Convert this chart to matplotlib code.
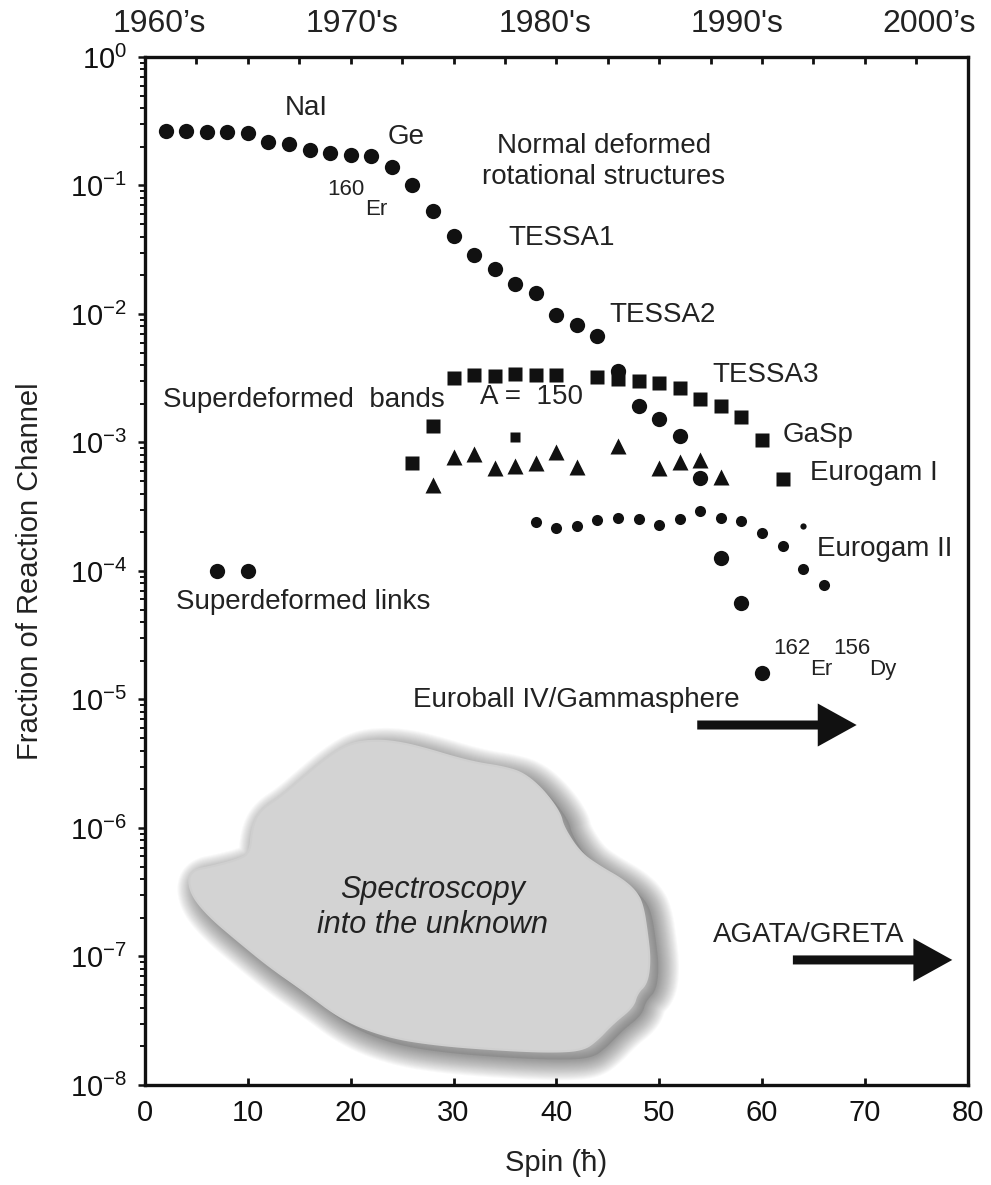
import numpy as np
import matplotlib
matplotlib.use("Agg")
import matplotlib.pyplot as plt
from matplotlib.patches import Polygon
from matplotlib.transforms import Affine2D
from matplotlib.ticker import FixedLocator, LogFormatterSciNotation, MultipleLocator

plt.rcParams['font.family'] = ['Liberation Sans', 'DejaVu Sans']
plt.rcParams['mathtext.fontset'] = 'custom'
plt.rcParams['mathtext.rm'] = 'Liberation Sans'
plt.rcParams['mathtext.it'] = 'Liberation Sans:italic'
plt.rcParams['mathtext.bf'] = 'Liberation Sans:bold'

# ---------------- data ----------------
# Normal deformed rotational structures (160Er -> 162Er), big circles
nd_spin = [2, 4, 6, 8, 10, 12, 14, 16, 18, 20, 22, 24, 26, 28, 30, 32, 34, 36, 38, 40,
           42, 44, 46, 48, 50, 52, 54, 56, 58, 60]
nd_frac = [0.267, 0.267, 0.26, 0.262, 0.258, 0.219, 0.21, 0.189, 0.178, 0.173,
           0.170, 0.140, 0.101, 0.0633, 0.0405, 0.0288, 0.0225, 0.0171, 0.0145, 0.0098,
           0.0082, 0.0067, 0.0036, 0.00192, 0.00151, 0.00112, 0.00053, 0.000127, 0.000056, 0.000016]

# Superdeformed bands A=150 (squares)
sq_spin = [26, 28, 30, 32, 34, 36, 38, 40, 44, 46, 48, 50, 52, 54, 56, 58, 60, 62]
sq_frac = [0.00069, 0.00134, 0.00316, 0.00335, 0.0033, 0.0034, 0.00335, 0.00335, 0.00322,
           0.0031, 0.00303, 0.00289, 0.00264, 0.00217, 0.00192, 0.00159, 0.00104, 0.00052]
sq_small_spin = [36]
sq_small_frac = [0.00111]

# triangles
tri_spin = [28, 30, 32, 34, 36, 38, 40, 42, 46, 50, 52, 54, 56]
tri_frac = [0.000467, 0.000767, 0.000813, 0.00063, 0.000656, 0.000697, 0.000849,
            0.000648, 0.00094, 0.00063, 0.00071, 0.00073, 0.000542]

# small dots (156Dy)
dot_spin = [38, 40, 42, 44, 46, 48, 50, 52, 54, 56, 58, 60, 62, 64, 66]
dot_frac = [0.000242, 0.000217, 0.000222, 0.000249, 0.000257, 0.000253, 0.000228, 0.000253,
            0.000295, 0.000257, 0.000246, 0.000199, 0.000157, 0.000103, 0.000078]
tiny_spin = [64]
tiny_frac = [0.000224]

# superdeformed links
link_spin = [7, 10]
link_frac = [0.0001, 0.0001]

xticks = [0, 10, 20, 30, 40, 50, 60, 70, 80]
ytick_exps = [-8, -7, -6, -5, -4, -3, -2, -1, 0]
decades = ["1960\u2019s", "1970's", "1980's", "1990's", "2000\u2019s"]
decade_spin = [1.4, 20.1, 38.9, 57.6, 76.2]

# ---------------- figure ----------------
fig = plt.figure(figsize=(9.91, 11.85), dpi=100)
ax = fig.add_axes([0.1463, 0.0844, 0.8302, 0.8675])
ax.set_yscale('log')
ax.set_xlim(0, 80)
ax.set_ylim(1e-8, 1)

for s in ax.spines.values():
    s.set_linewidth(2.4)
    s.set_color('#111111')

ax.set_xticks(xticks)
ax.xaxis.set_minor_locator(MultipleLocator(5))
ax.tick_params(axis='x', which='major', direction='in', length=5, width=2,
               labelsize=21, pad=10, top=True, bottom=True, colors='#111111')
ax.tick_params(axis='x', which='minor', direction='in', length=5, width=2,
               top=True, bottom=False, colors='#111111')

ymaj = [10.0 ** e for e in ytick_exps]
ymin = [m * 10.0 ** e for e in ytick_exps[:-1] for m in range(2, 10)]
ax.yaxis.set_major_locator(FixedLocator(ymaj))
ax.yaxis.set_minor_locator(FixedLocator(ymin))
ax.yaxis.set_major_formatter(LogFormatterSciNotation())
ax.yaxis.set_minor_formatter(plt.NullFormatter())
ax.tick_params(axis='y', which='major', direction='out', length=5, width=1.8,
               labelsize=21, pad=8, right=False, colors='#111111')
ax.tick_params(axis='y', which='minor', direction='out', length=3.5, width=1.4,
               right=False, colors='#111111')

ax.set_xlabel('Spin (\u0127)', fontsize=21, va='center', color='#222222')
ax.xaxis.set_label_coords(0.5, -0.0759)
ax.set_ylabel('Fraction of Reaction Channel', fontsize=21, va='center', color='#222222')
ax.yaxis.set_label_coords(-0.14, 0.5)

for lab, sp in zip(decades, decade_spin):
    ax.text(sp, 1.032, lab, transform=ax.get_xaxis_transform(), ha='center', va='center',
            fontsize=23, color='#222222', clip_on=False)

# ---------------- blob ----------------
blob = np.array([
    (0.0523, 0.1994), (0.0583, 0.2091), (0.0790, 0.2121), (0.1118, 0.2189), (0.1276, 0.2257),
    (0.1301, 0.2510), (0.1398, 0.2675), (0.1641, 0.2802), (0.1921, 0.2996), (0.2212, 0.3191),
    (0.2492, 0.3327), (0.2820, 0.3356), (0.3136, 0.3327), (0.3464, 0.3259), (0.3744, 0.3191),
    (0.4035, 0.3132), (0.4351, 0.3093), (0.4595, 0.3035), (0.4838, 0.2870), (0.5044, 0.2646),
    (0.5081, 0.2510), (0.5287, 0.2257), (0.5531, 0.2121), (0.5810, 0.1994), (0.5980, 0.1868),
    (0.6053, 0.1732), (0.6102, 0.1479), (0.6138, 0.1216), (0.6102, 0.0992), (0.5980, 0.0895),
    (0.5932, 0.0759), (0.5689, 0.0603), (0.5494, 0.0438), (0.5324, 0.0340), (0.4959, 0.0321),
    (0.4351, 0.0340), (0.3549, 0.0389), (0.2942, 0.0467), (0.2407, 0.0632), (0.1921, 0.0924),
    (0.1519, 0.1148), (0.1118, 0.1411), (0.0790, 0.1634), (0.0583, 0.1829)])


def chaikin(pts, n=2):
    for _ in range(n):
        nxt = np.roll(pts, -1, axis=0)
        q = 0.75 * pts + 0.25 * nxt
        r = 0.25 * pts + 0.75 * nxt
        pts = np.empty((2 * len(pts), 2))
        pts[0::2] = q
        pts[1::2] = r
    return pts


blob_s = chaikin(blob, 3)
shadow_tr = ax.transAxes + Affine2D().translate(9, -8)
ax.add_patch(Polygon(blob_s, closed=True, transform=shadow_tr, fc=(0.2, 0.2, 0.2),
                     ec='none', alpha=0.12, zorder=1))
for w in np.linspace(30, 1, 22):
    ax.add_patch(Polygon(blob_s, closed=True, transform=shadow_tr, fc='none',
                         ec=(0.2, 0.2, 0.2), lw=w, alpha=0.028, joinstyle='round', zorder=1))
ax.add_patch(Polygon(blob_s, closed=True, transform=ax.transAxes, fc='#d3d3d3',
                     ec='#cfcfcf', lw=1.5, zorder=2))
ax.text(0.3499, 0.1897, 'Spectroscopy', transform=ax.transAxes, ha='center', va='center',
        fontsize=22, style='italic', color='#222222', zorder=3)
ax.text(0.3499, 0.1556, 'into the unknown', transform=ax.transAxes, ha='center', va='center',
        fontsize=22, style='italic', color='#222222', zorder=3)

# ---------------- markers ----------------
mk = '#111111'
ax.plot(nd_spin, nd_frac, 'o', ms=11, color=mk, mec='none', zorder=5)
ax.plot(sq_spin, sq_frac, 's', ms=9.5, color=mk, mec='none', zorder=4)
ax.plot(sq_small_spin, sq_small_frac, 's', ms=7, color=mk, mec='none', zorder=4)
ax.plot(tri_spin, tri_frac, '^', ms=11, color=mk, mec='none', zorder=4)
ax.plot(dot_spin, dot_frac, 'o', ms=8, color=mk, mec='none', zorder=4)
ax.plot(tiny_spin, tiny_frac, 'o', ms=4.5, color=mk, mec='none', zorder=4)
ax.plot(link_spin, link_frac, 'o', ms=11, color=mk, mec='none', zorder=4)

# ---------------- labels ----------------
tc = '#222222'
fs = 20
ax.text(15.66, 0.401, 'NaI', fontsize=fs, ha='center', va='center', color=tc)
ax.text(25.4, 0.238, 'Ge', fontsize=fs, ha='center', va='center', color=tc)
ax.text(17.7, 0.0923, '160', fontsize=16, ha='left', va='center', color=tc)
ax.text(21.4, 0.0656, 'Er', fontsize=16, ha='left', va='center', color=tc)
ax.text(44.6, 0.179, 'Normal deformed', fontsize=fs, ha='center', va='baseline', color=tc)
ax.text(44.6, 0.1027, 'rotational structures', fontsize=fs, ha='center', va='baseline', color=tc)
ax.text(35.3, 0.039, 'TESSA1', fontsize=fs, ha='left', va='center', color=tc)
ax.text(45.2, 0.0098, 'TESSA2', fontsize=fs, ha='left', va='center', color=tc)
ax.text(55.2, 0.00335, 'TESSA3', fontsize=fs, ha='left', va='center', color=tc)
ax.text(62.0, 0.00114, 'GaSp', fontsize=fs, ha='left', va='center', color=tc)
ax.text(64.7, 0.00058, 'Eurogam I', fontsize=fs, ha='left', va='center', color=tc)
ax.text(65.3, 0.000148, 'Eurogam II', fontsize=fs, ha='left', va='center', color=tc)
ax.text(1.75, 0.00214, 'Superdeformed  bands', fontsize=fs, ha='left', va='center', color=tc)
ax.text(32.6, 0.00226, 'A =  150', fontsize=fs, ha='left', va='center', color=tc)
ax.text(3.0, 5.74e-5, 'Superdeformed links', fontsize=fs, ha='left', va='center', color=tc)
ax.text(61.1, 2.51e-5, '162', fontsize=16, ha='left', va='center', color=tc)
ax.text(64.7, 1.70e-5, 'Er', fontsize=16, ha='left', va='center', color=tc)
ax.text(66.9, 2.51e-5, '156', fontsize=16, ha='left', va='center', color=tc)
ax.text(70.4, 1.70e-5, 'Dy', fontsize=16, ha='left', va='center', color=tc)
ax.text(26.1, 9.9e-6, 'Euroball IV/Gammasphere', fontsize=fs, ha='left', va='center', color=tc)
ax.text(55.2, 1.47e-7, 'AGATA/GRETA', fontsize=fs, ha='left', va='center', color=tc)

arrow_style = 'simple,head_length=2.8,head_width=3.1,tail_width=0.65'
ax.annotate('', xy=(69.2, 6.33e-6), xytext=(53.7, 6.33e-6),
            arrowprops=dict(arrowstyle=arrow_style, fc=mk, ec='none', lw=0,
                            shrinkA=0, shrinkB=0, mutation_scale=10))
ax.annotate('', xy=(78.5, 9.4e-8), xytext=(63.0, 9.4e-8),
            arrowprops=dict(arrowstyle=arrow_style, fc=mk, ec='none', lw=0,
                            shrinkA=0, shrinkB=0, mutation_scale=10))

fig.savefig('out.png', dpi=100)
